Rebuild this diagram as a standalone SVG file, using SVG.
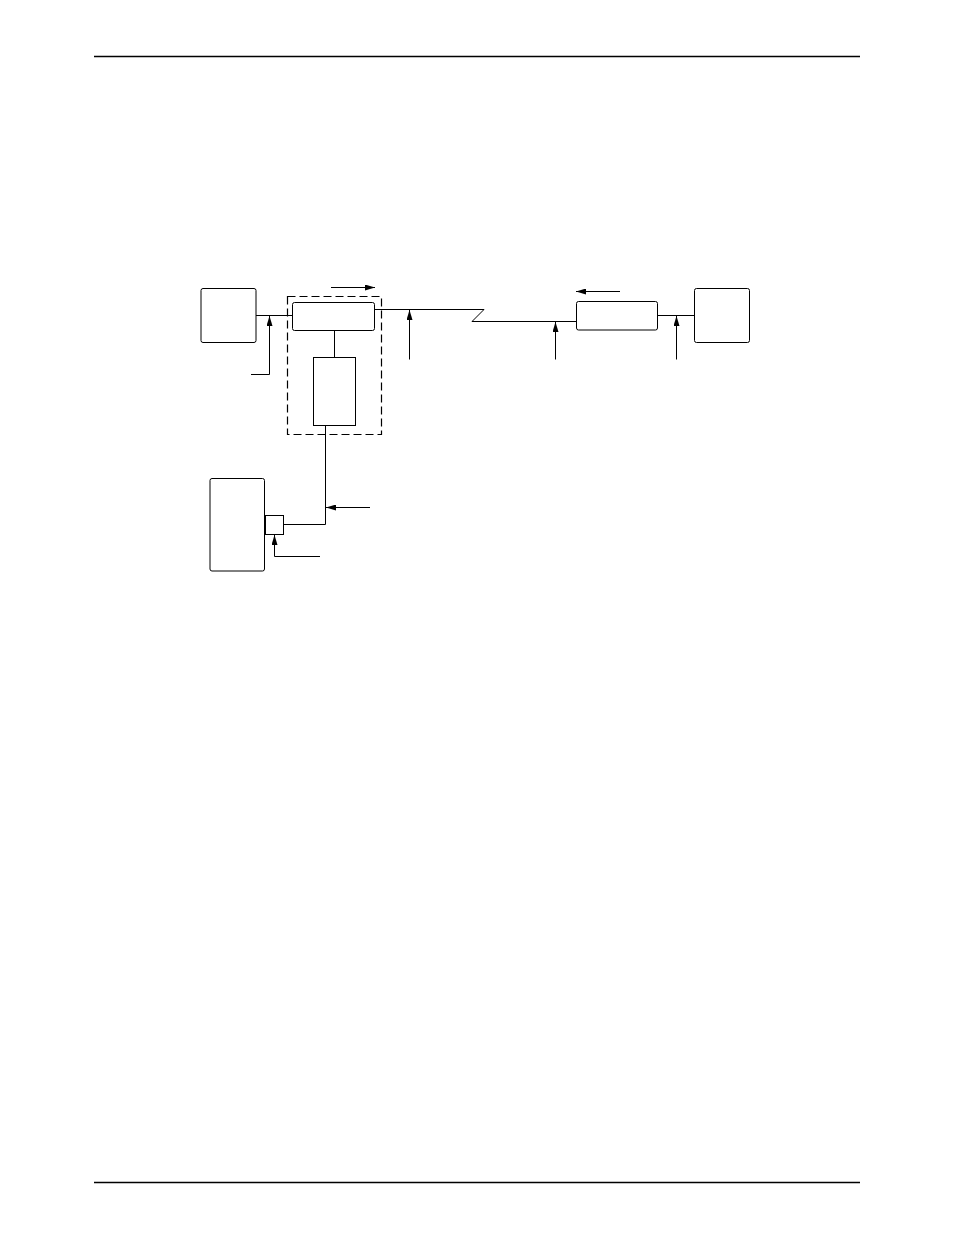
<svg xmlns="http://www.w3.org/2000/svg" width="954" height="1235" viewBox="0 0 954 1235">
<style>
.box{fill:none;stroke:#000;stroke-width:1}
.ln{fill:none;stroke:#000;stroke-width:1}
.dash{fill:none;stroke:#000;stroke-width:1.2;stroke-dasharray:8,4}
.rule{stroke:#000;stroke-width:1.5}
</style>
<defs>
<marker id="ah" viewBox="0 0 10 6" refX="10" refY="3" markerWidth="10" markerHeight="6" markerUnits="userSpaceOnUse" orient="auto">
<path d="M0,0 L10,3 L0,6 Z" fill="#000"/>
</marker>
</defs>
<rect width="954" height="1235" fill="#fff"/>
<line class="rule" x1="94" y1="56.5" x2="860" y2="56.5"/>
<line class="rule" x1="94" y1="1182.5" x2="860" y2="1182.5"/>
<g id="node-left-terminal"><rect class="box" x="201" y="288.5" width="55" height="54" rx="2"/></g>
<g id="node-group"><rect class="dash" x="287.5" y="296.5" width="94" height="138"/></g>
<g id="node-upper-unit"><rect class="box" x="292.5" y="302.5" width="82" height="28" rx="2"/></g>
<g id="node-lower-unit"><rect class="box" x="313.5" y="357.5" width="42" height="68"/></g>
<g id="node-right-unit"><rect class="box" x="576.5" y="301.5" width="81" height="28.5" rx="2"/></g>
<g id="node-right-terminal"><rect class="box" x="694.5" y="288.5" width="55" height="54" rx="2"/></g>
<g id="node-bottom-terminal"><rect class="box" x="210" y="478.5" width="54.5" height="92.5" rx="2"/></g>
<g id="node-port"><rect class="box" x="265.5" y="515.5" width="18" height="19"/></g>
<g id="connectors">
<line class="ln" x1="256" y1="315.5" x2="292.5" y2="315.5"/>
<polyline class="ln" points="251,374.5 269.5,374.5 269.5,316" marker-end="url(#ah)"/>
<line class="ln" x1="334.5" y1="330.5" x2="334.5" y2="357.5"/>
<line class="ln" x1="331" y1="287.5" x2="375" y2="287.5" marker-end="url(#ah)"/>
<polyline class="ln" points="374.5,309.5 484,309.5 472,321.5 576.5,321.5"/>
<line class="ln" x1="409.5" y1="359.5" x2="409.5" y2="310" marker-end="url(#ah)"/>
<line class="ln" x1="555.5" y1="359.5" x2="555.5" y2="322" marker-end="url(#ah)"/>
<line class="ln" x1="657.5" y1="315.5" x2="694.5" y2="315.5"/>
<line class="ln" x1="676.5" y1="359.5" x2="676.5" y2="316" marker-end="url(#ah)"/>
<line class="ln" x1="620" y1="291.5" x2="576" y2="291.5" marker-end="url(#ah)"/>
<polyline class="ln" points="325.5,425.5 325.5,524.5 283.5,524.5"/>
<line class="ln" x1="370" y1="507.5" x2="326" y2="507.5" marker-end="url(#ah)"/>
<polyline class="ln" points="320,556.5 274.5,556.5 274.5,535" marker-end="url(#ah)"/>
</g>
</svg>
